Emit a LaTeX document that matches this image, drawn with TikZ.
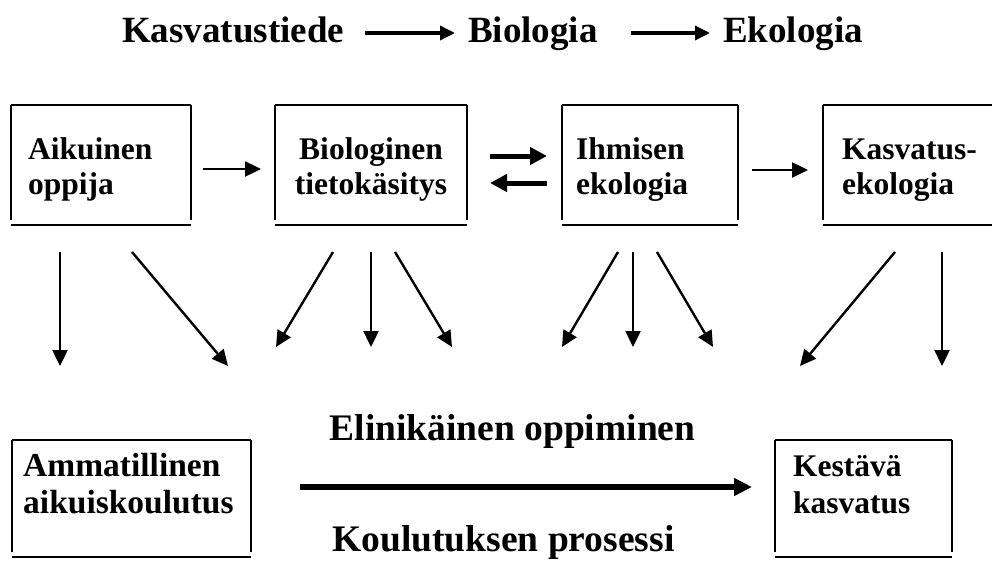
\documentclass[tikz,border=0pt]{standalone}
\usepackage{fontspec}
\setmainfont{Liberation Serif}
\usetikzlibrary{arrows.meta,calc,fit}

% text sizes
\newcommand\titlefont{\bfseries\fontsize{37}{40}\selectfont}
\newcommand\midfont{\bfseries\fontsize{37.5}{40}\selectfont}
\newcommand\bxfont{\bfseries\fontsize{31.5}{35}\selectfont}
\newcommand\bxlowfont{\bfseries\fontsize{31.5}{37}\selectfont}
\newcommand\bxbigfont{\bfseries\fontsize{33.5}{37}\selectfont}

% box outline: top edge, two sides stopping short, separate bottom edge
\newcommand\boxoutline[1]{%
  \draw[frame] (#1.north west) -- (#1.north east);
  \draw[frame] (#1.north west) -- ([yshift=5pt]#1.south west);
  \draw[frame] (#1.north east) -- ([yshift=5pt]#1.south east);
  \draw[frame] (#1.south west) -- (#1.south east);
}

\begin{document}
\begin{tikzpicture}[x=1pt,y=-1pt,
  frame/.style={line width=2pt},
  area/.style={inner sep=0pt, outer sep=0pt},
  lbl/.style={inner sep=0pt, anchor=base west},
  thin/.style={line width=2.4pt, -{Triangle[length=16pt,width=15pt]}},
  bold/.style={line width=5pt, -{Triangle[length=17pt,width=17pt]}},
  heavy/.style={line width=6pt, -{Triangle[length=18pt,width=17pt]}},
  titlearrow/.style={line width=3.4pt, -{Triangle[length=15pt,width=14pt]}}]

\useasboundingbox (0,0) rectangle (992,562);
\clip (0,0) rectangle (992,562);

% ---- title line ----
\node[lbl, font=\titlefont] (k1) at (122,42) {Kasvatustiede};
\node[lbl, font=\titlefont] (k2) at (468,42) {Biologia};
\node[lbl, font=\titlefont] (k3) at (723,42) {Ekologia};
\draw[titlearrow] ($(k1.base east)+(21,-9)$) -- ($(k2.base west)+(-13,-9)$);
\draw[titlearrow] ($(k2.base east)+(33,-9)$) -- ($(k3.base west)+(-13,-9)$);

% ---- upper row of boxes ----
\node[area, fit={(11,105) (191,225)}] (b1) {};
\node[area, fit={(275,105) (467,225)}] (b2) {};
\node[area, fit={(562,105) (738,225)}] (b3) {};
\node[area, fit={(823,105) (1000,225)}] (b4) {};
\boxoutline{b1}
\boxoutline{b2}
\boxoutline{b3}
\boxoutline{b4}

\node[lbl, font=\bxfont] (t1) at (28,159)
  {\begin{tabular}[t]{@{}l@{}}Aikuinen\\oppija\end{tabular}};
\node[inner sep=0pt, anchor=base, font=\bxfont] (t2) at (371,159)
  {\begin{tabular}[t]{@{}c@{}}Biologinen\\tietokäsitys\end{tabular}};
\node[lbl, font=\bxfont] (t3) at (576,159)
  {\begin{tabular}[t]{@{}l@{}}Ihmisen\\ekologia\end{tabular}};
\node[lbl, font=\bxfont] (t4) at (842,159)
  {\begin{tabular}[t]{@{}l@{}}Kasvatus-\\ekologia\end{tabular}};

% arrows between the upper boxes
\draw[thin] ($(b1.east)+(12,4)$) -- ($(b2.west)+(-14,4)$);
\draw[bold] ($(b2.east)+(23,-9)$) -- ($(b3.west)+(-15,-9)$);
\draw[bold] ($(b3.west)+(-15,18)$) -- ($(b2.east)+(23,18)$);
\draw[thin] ($(b3.east)+(14,5)$) -- ($(b4.west)+(-15,5)$);

% free ends of the downward arrows
\coordinate (d1) at (60,366);
\coordinate (d2) at (228,366);
\coordinate (d3) at (276,347);
\coordinate (d4) at (371,347);
\coordinate (d5) at (452,347);
\coordinate (d6) at (562,347);
\coordinate (d7) at (633,347);
\coordinate (d8) at (713,347);
\coordinate (d9) at (800,366);
\coordinate (d10) at (942,366);

\draw[thin] ($(b1.south west)+(49,27)$) -- (d1);
\draw[thin] ($(b1.south west)+(121,27)$) -- (d2);
\draw[thin] ($(b2.south west)+(58,27)$) -- (d3);
\draw[thin] ($(b2.south west)+(96,27)$) -- (d4);
\draw[thin] ($(b2.south west)+(120,27)$) -- (d5);
\draw[thin] ($(b3.south west)+(56,27)$) -- (d6);
\draw[thin] ($(b3.south west)+(71,27)$) -- (d7);
\draw[thin] ($(b3.south west)+(95,27)$) -- (d8);
\draw[thin] ($(b4.south west)+(72,27)$) -- (d9);
\draw[thin] ($(b4.south west)+(119,27)$) -- (d10);

% ---- lower row ----
\node[area, fit={(12,440) (251,557)}] (b5) {};
\node[area, fit={(775,440) (952,557)}] (b6) {};
\boxoutline{b5}
\boxoutline{b6}

\node[lbl, font=\bxbigfont] (t5) at (23,476)
  {\begin{tabular}[t]{@{}l@{}}Ammatillinen\\aikuiskoulutus\end{tabular}};
\node[lbl, font=\bxlowfont] (t6) at (793,476)
  {\begin{tabular}[t]{@{}l@{}}Kestävä\\kasvatus\end{tabular}};

\node[inner sep=0pt, anchor=base, font=\midfont] (m1) at (512.5,440) {Elinikäinen oppiminen};
\node[inner sep=0pt, anchor=base, font=\midfont] (m2) at (503.5,551) {Koulutuksen prosessi};

\draw[heavy] ($(b5.east)+(49,-11.5)$) -- ($(b6.west)+(-23,-11.5)$);

\end{tikzpicture}
\end{document}
